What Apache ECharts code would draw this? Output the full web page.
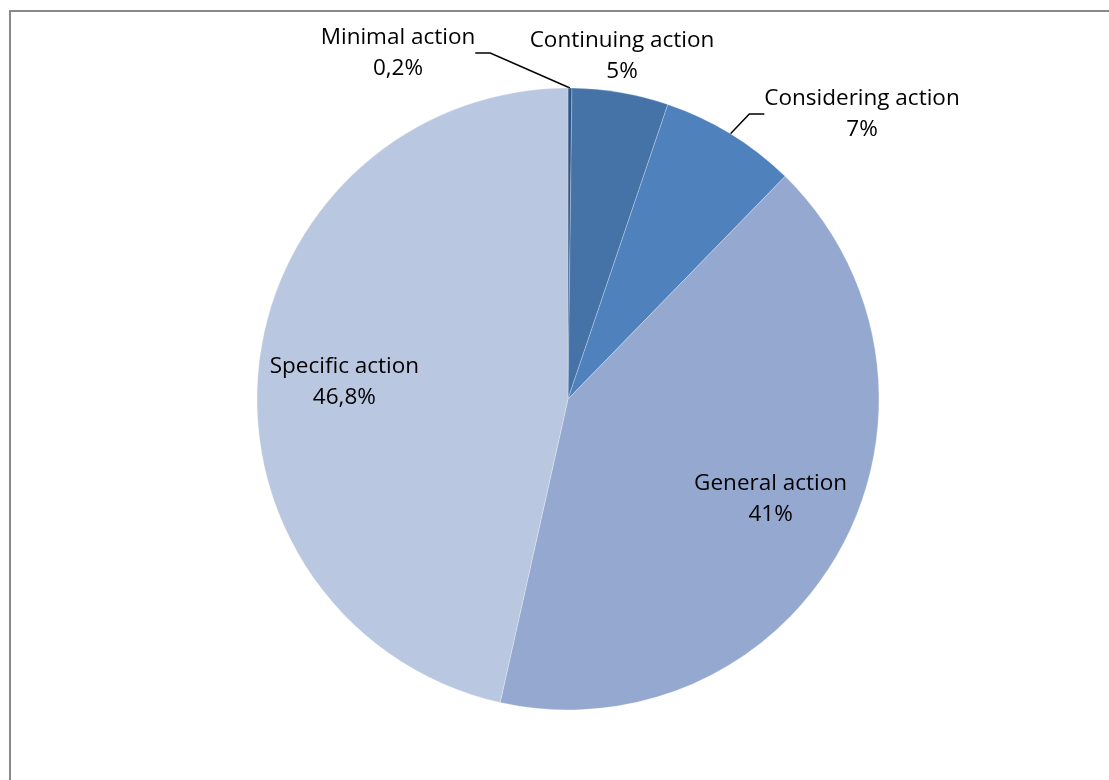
<!DOCTYPE html>
<html>
<head>
<meta charset="utf-8">
<script src="https://cdn.jsdelivr.net/npm/echarts@6/dist/echarts.min.js"></script>
<style>
html,body{margin:0;padding:0;background:#fff;}
#chart{width:1109px;height:780px;}
</style>
</head>
<body>
<div id="chart"></div>
<script>
// Data
const categories = ['Minimal action', 'Continuing action', 'Considering action', 'General action', 'Specific action'];
const shares = [0.2, 5.0, 7.1, 41.2, 46.5];          // slice sizes as seen (percent)
const shareLabels = ['0,2%', '5%', '7%', '41%', '46,8%']; // printed labels
const colors = ['#2E5587', '#4573A8', '#4F81BD', '#95A9D0', '#BAC7E0'];

const FONT = 'Open Sans';
const outsideIdx = [0, 1, 2];
const insideIdx = [3, 4];

const baseLabel = {
  fontFamily: FONT, fontSize: 22.5, color: '#000', lineHeight: 31.5, align: 'center'
};

function fmt(p) { return categories[p.dataIndex] + '\n' + shareLabels[p.dataIndex]; }

const mainData = categories.map((c, i) => ({
  name: c, value: shares[i],
  itemStyle: { color: colors[i] },
  label: { show: outsideIdx.includes(i) },
  labelLine: { show: i !== 1 }
}));

const ringData = categories.map((c, i) => ({
  name: c, value: shares[i],
  label: { show: insideIdx.includes(i) }
}));

const chart = echarts.init(document.getElementById('chart'), null, { renderer: 'canvas' });
chart.setOption({
  backgroundColor: '#fff',
  animation: false,
  graphic: [{
    type: 'rect', silent: true,
    shape: { x: 10, y: 11, width: 1120, height: 800 },
    style: { fill: 'none', stroke: '#898989', lineWidth: 2 }
  }],
  series: [
    {
      type: 'pie', center: [568, 399], radius: 311,
      startAngle: 90, clockwise: true, avoidLabelOverlap: false,
      itemStyle: { borderColor: 'rgba(255,255,255,0.5)', borderWidth: 0.5 },
      label: Object.assign({}, baseLabel, { position: 'outside', formatter: fmt, distanceToLabelLine: 2 }),
      labelLine: { length: 38, length2: 15, smooth: false, lineStyle: { color: '#000', width: 1.5 } },
      labelLayout: function (p) {
        if (p.dataIndex === 0) return { x: 398, y: 53, align: 'center', verticalAlign: 'middle' };
        if (p.dataIndex === 1) return { x: 622, y: 56, align: 'center', verticalAlign: 'middle' };
        if (p.dataIndex === 2) return { x: 862, y: 114, align: 'center', verticalAlign: 'middle' };
      },
      emphasis: { disabled: true },
      data: mainData
    },
    {
      type: 'pie', center: [568, 399], radius: [137, 311],
      startAngle: 90, clockwise: true, silent: true,
      itemStyle: { color: 'rgba(0,0,0,0)' },
      label: Object.assign({}, baseLabel, { position: 'inside', formatter: fmt }),
      labelLine: { show: false },
      labelLayout: function (p) {
        if (p.dataIndex === 3) return { dx: 3, dy: -8 };
        if (p.dataIndex === 4) return { dx: 2, dy: 8 };
      },
      emphasis: { disabled: true },
      data: ringData
    }
  ]
});
</script>
</body>
</html>
